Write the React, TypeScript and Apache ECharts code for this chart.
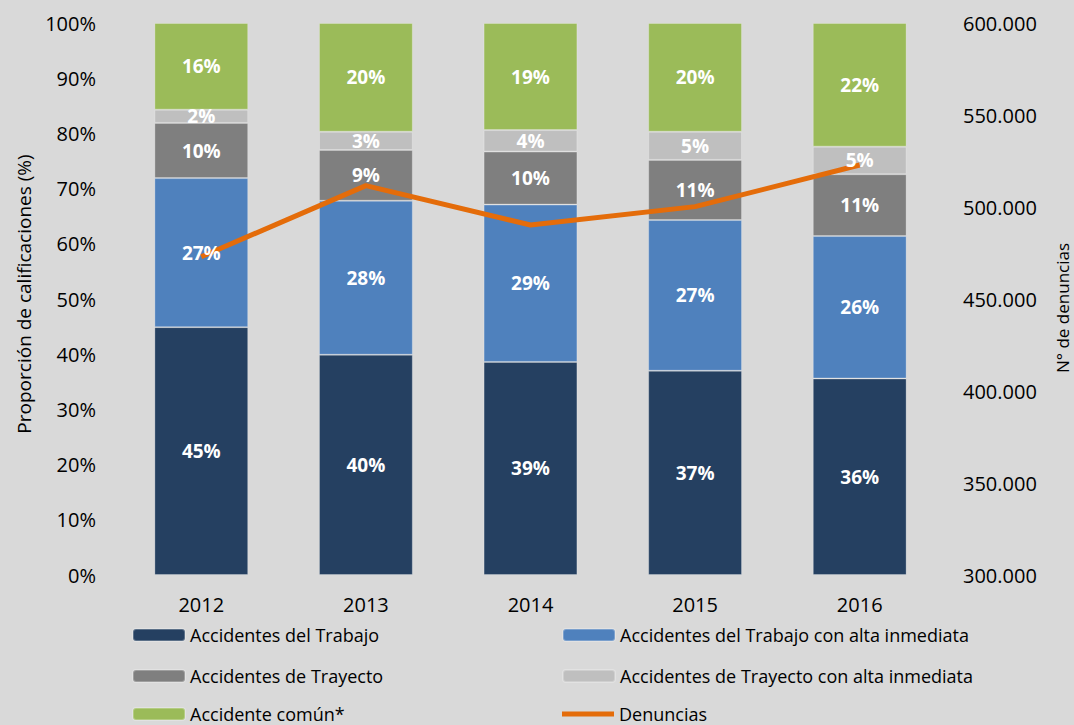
import React, { useEffect, useRef } from "react";
import * as echarts from "echarts";

const years = ["2012", "2013", "2014", "2015", "2016"];
const trabajo = [44.9, 39.9, 38.6, 37.0, 35.6];
const trabajoAlta = [27.0, 27.9, 28.5, 27.3, 25.8];
const trayecto = [10.0, 9.2, 9.6, 10.9, 11.2];
const trayectoAlta = [2.4, 3.3, 3.9, 5.1, 5.0];
const comun = [15.7, 19.7, 19.4, 19.7, 22.4];
const denuncias = [473000, 511600, 490200, 500200, 522800];

const seriesNames = [
  "Accidentes del Trabajo",
  "Accidentes del Trabajo con alta inmediata",
  "Accidentes de Trayecto",
  "Accidentes de Trayecto con alta inmediata",
  "Accidente común*",
];
const seriesData = [trabajo, trabajoAlta, trayecto, trayectoAlta, comun];
const seriesColors = ["#254061", "#4f81bd", "#7f7f7f", "#bfbfbf", "#9bbb59"];

const FONT = "Open Sans";

export default function App() {
  const ref = useRef<HTMLDivElement>(null);
  useEffect(() => {
    if (!ref.current) return;
    const chart = echarts.init(ref.current, undefined, { renderer: "svg" });

    const barSeries = seriesNames.map((name, i) => ({
      name,
      type: "bar",
      stack: "total",
      barWidth: "57%",
      barGap: "-100%",
      data: seriesData[i],
      itemStyle: { color: seriesColors[i], borderColor: "rgba(255,255,255,0.25)", borderWidth: 1 },
      label: { show: false },
      z: 2,
    }));
    const labelSeries = seriesNames.map((name, i) => ({
      name: name + " (etiqueta)",
      type: "bar",
      stack: "labels",
      barWidth: "57%",
      barGap: "-100%",
      data: seriesData[i],
      silent: true,
      itemStyle: { color: "rgba(0,0,0,0)" },
      label: {
        show: true,
        position: "inside",
        color: "#ffffff",
        fontFamily: FONT,
        fontWeight: "bold",
        fontSize: 19,
        formatter: (p: any) => Math.round(p.value) + "%",
      },
      z: 4,
    }));

    const legendText = { fontFamily: FONT, fontSize: 18, color: "#000", lineHeight: 18 };
    const legendAt = (left: number, top: number, item: any) => ({
      orient: "horizontal",
      left,
      top,
      itemWidth: 52,
      itemHeight: 12,
      itemGap: 5,
      textStyle: legendText,
      data: [item],
    });

    chart.setOption({
      animation: false,
      backgroundColor: "#d9d9d9",
      textStyle: { fontFamily: FONT },
      grid: { left: 119, right: 132, top: 23, bottom: 150, containLabel: false },
      legend: [
        legendAt(127, 621, seriesNames[0]),
        legendAt(127, 662, seriesNames[2]),
        legendAt(127, 700, seriesNames[4]),
        legendAt(557, 621, seriesNames[1]),
        legendAt(557, 662, seriesNames[3]),
        legendAt(557, 700, {
          name: "Denuncias",
          icon: "path://M0,0H52V5H0Z",
          itemStyle: { color: "#e46c0a" },
        }),
      ],
      xAxis: {
        type: "category",
        data: years,
        axisLine: { show: false },
        axisTick: { show: false },
        axisLabel: { color: "#000", fontSize: 20, margin: 19, fontFamily: FONT },
      },
      yAxis: [
        {
          type: "value",
          min: 0,
          max: 100,
          interval: 10,
          splitLine: { show: false },
          axisLine: { show: false },
          axisTick: { show: false },
          axisLabel: { color: "#000", fontSize: 20, margin: 23, formatter: "{value}%", fontFamily: FONT },
        },
        {
          type: "value",
          position: "right",
          min: 300000,
          max: 600000,
          interval: 50000,
          splitLine: { show: false },
          axisLine: { show: false },
          axisTick: { show: false },
          axisLabel: {
            color: "#000",
            fontSize: 20,
            margin: 21,
            fontFamily: FONT,
            formatter: (v: number) => String(Math.round(v)).replace(/\B(?=(\d{3})+(?!\d))/g, "."),
          },
        },
      ],
      graphic: [
        {
          type: "text",
          x: 24,
          y: 294,
          rotation: Math.PI / 2,
          style: {
            text: "Proporción de calificaciones (%)",
            fontFamily: FONT,
            fontSize: 19,
            fill: "#000",
            align: "center",
            verticalAlign: "middle",
          },
        },
        {
          type: "text",
          x: 1062,
          y: 308,
          rotation: Math.PI / 2,
          style: {
            text: "N° de denuncias",
            fontFamily: FONT,
            fontSize: 17,
            fill: "#000",
            align: "center",
            verticalAlign: "middle",
          },
        },
      ],
      series: [
        ...barSeries,
        {
          name: "Denuncias",
          type: "line",
          yAxisIndex: 1,
          data: denuncias,
          showSymbol: false,
          symbol: "none",
          lineStyle: { color: "#e46c0a", width: 5 },
          itemStyle: { color: "#e46c0a" },
          z: 3,
        },
        ...labelSeries,
      ],
    });
    return () => chart.dispose();
  }, []);
  return (
    <div
      ref={ref}
      style={{ position: "fixed", left: 0, top: 0, width: 1074, height: 725 }}
    />
  );
}
